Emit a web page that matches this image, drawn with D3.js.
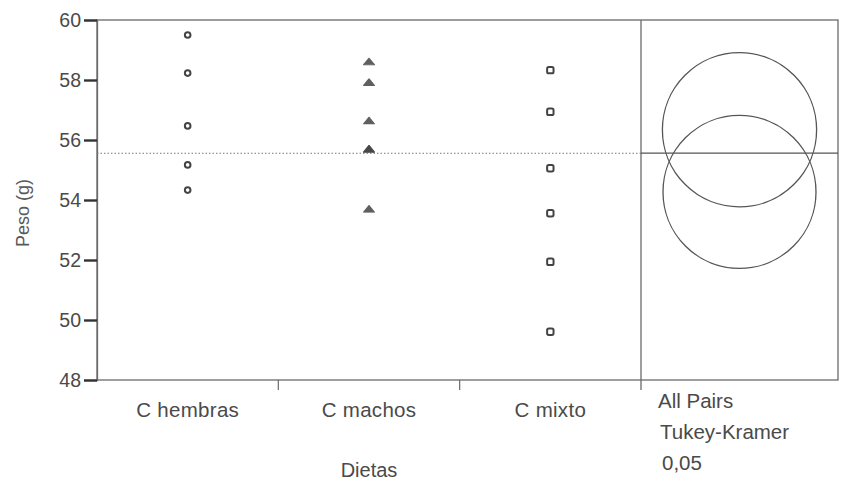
<!DOCTYPE html>
<html>
<head>
<meta charset="utf-8">
<script src="https://cdn.jsdelivr.net/npm/d3@7"></script>
<style>
  body { margin: 0; background: #fff; }
  svg text { font-family: "Liberation Sans", Arial, sans-serif; fill: #4a4a4a; }
</style>
</head>
<body>
<svg id="chart" width="843" height="490"></svg>
<script>
// Weights by diet group
const categories = ["C hembras", "C machos", "C mixto"];
const hembras = [59.5, 58.23, 56.47, 55.17, 54.33];
const machos = [58.58, 57.89, 56.61, 55.67, 55.67, 53.67];
const mixto = [58.33, 56.94, 55.06, 53.56, 51.94, 49.61];
const grandMean = 55.56;
// Tukey-Kramer comparison circles (centre, radius in grams)
const circleCenters = [56.34, 54.27];
const circleRadii = [2.57, 2.55];
const yTicks = [48, 50, 52, 54, 56, 58, 60];
const sideLabels = ["All Pairs", "Tukey-Kramer", "0,05"];

const svg = d3.select("#chart");

const plotLeft = 97, plotRight = 838, plotTop = 20, plotBottom = 380, divider = 641;
const y = d3.scaleLinear().domain([48, 60]).range([plotBottom, plotTop]);
const x = d3.scaleBand().domain(categories).range([plotLeft, divider]);

const lineColor = "#6a6a6a";

// frame
svg.append("rect")
  .attr("x", plotLeft).attr("y", plotTop)
  .attr("width", plotRight - plotLeft).attr("height", plotBottom - plotTop)
  .attr("fill", "none").attr("stroke", lineColor).attr("stroke-width", 1.3);
svg.append("line")
  .attr("x1", divider).attr("x2", divider)
  .attr("y1", plotTop).attr("y2", plotBottom + 10)
  .attr("stroke", lineColor).attr("stroke-width", 1.3);

// y axis
const yAxis = d3.axisLeft(y).tickValues(yTicks).tickSize(13).tickPadding(3);
const gy = svg.append("g").attr("transform", `translate(${plotLeft},0)`).call(yAxis);
gy.select(".domain").attr("stroke", lineColor).attr("stroke-width", 1.3);
gy.selectAll(".tick line").attr("stroke", "#333").attr("stroke-width", 2.4);
gy.selectAll(".tick text")
  .style("font-family", "'Liberation Sans', Arial, sans-serif")
  .style("font-size", "19.5px").attr("fill", "#4a4a4a").attr("dy", "0.34em");

// x axis: ticks between categories
const boundaries = categories.slice(1).map(c => x(c));
svg.selectAll(".xtick").data(boundaries).enter().append("line")
  .attr("x1", d => d).attr("x2", d => d)
  .attr("y1", plotBottom).attr("y2", plotBottom + 10)
  .attr("stroke", lineColor).attr("stroke-width", 1.2);
svg.selectAll(".xlab").data(categories).enter().append("text")
  .attr("x", d => x(d) + x.bandwidth() / 2)
  .attr("y", 417)
  .attr("text-anchor", "middle")
  .style("font-size", "20.5px")
  .style("letter-spacing", "0.3px")
  .text(d => d);

// axis titles
svg.append("text")
  .attr("x", (plotLeft + divider) / 2).attr("y", 477)
  .attr("text-anchor", "middle").style("font-size", "20px").text("Dietas");
svg.append("text")
  .attr("transform", "translate(29,213) rotate(-90)")
  .attr("text-anchor", "middle").style("font-size", "18px")
  .style("fill", "#5a5a5a").text("Peso (g)");

// side labels for the comparison panel
svg.selectAll(".side").data(sideLabels).enter().append("text")
  .attr("x", (d, i) => divider + 17 + i * 2)
  .attr("y", (d, i) => 408 + i * 31)
  .style("font-size", "20.5px")
  .text(d => d);

// grand mean lines
svg.append("line")
  .attr("x1", plotLeft).attr("x2", divider)
  .attr("y1", y(grandMean)).attr("y2", y(grandMean))
  .attr("stroke", "#777").attr("stroke-width", 1.1)
  .attr("stroke-dasharray", "1.5,2");
svg.append("line")
  .attr("x1", divider).attr("x2", plotRight)
  .attr("y1", y(grandMean)).attr("y2", y(grandMean))
  .attr("stroke", "#555").attr("stroke-width", 1.3);

// comparison circles
const pxPerUnit = y(0) - y(1);
const cx = (divider + plotRight) / 2;
svg.selectAll(".cmp").data(circleCenters).enter().append("circle")
  .attr("cx", cx)
  .attr("cy", d => y(d))
  .attr("r", (d, i) => circleRadii[i] * pxPerUnit)
  .attr("fill", "none").attr("stroke", "#555").attr("stroke-width", 1.3);

// points
const ptColor = "#444";
const gx = c => x(c) + x.bandwidth() / 2;

svg.selectAll(".ph").data(hembras).enter().append("circle")
  .attr("cx", gx(categories[0])).attr("cy", d => y(d))
  .attr("r", 2.8).attr("fill", "#fff")
  .attr("stroke", ptColor).attr("stroke-width", 2);

const tri = d3.symbol().type(d3.symbolTriangle).size(36);
svg.selectAll(".pm").data(machos).enter().append("path")
  .attr("d", tri)
  .attr("transform", d => `translate(${gx(categories[1])},${y(d)}) scale(1.2,0.85)`)
  .attr("fill", ptColor).attr("stroke", ptColor).attr("stroke-width", 1)
  .attr("stroke-linejoin", "round")
  .attr("opacity", 0.85);

svg.selectAll(".px").data(mixto).enter().append("rect")
  .attr("x", gx(categories[2]) - 3.2).attr("y", d => y(d) - 3.2)
  .attr("width", 6.4).attr("height", 6.4).attr("rx", 1.6)
  .attr("fill", "#fff").attr("stroke", ptColor).attr("stroke-width", 2);
</script>
</body>
</html>
